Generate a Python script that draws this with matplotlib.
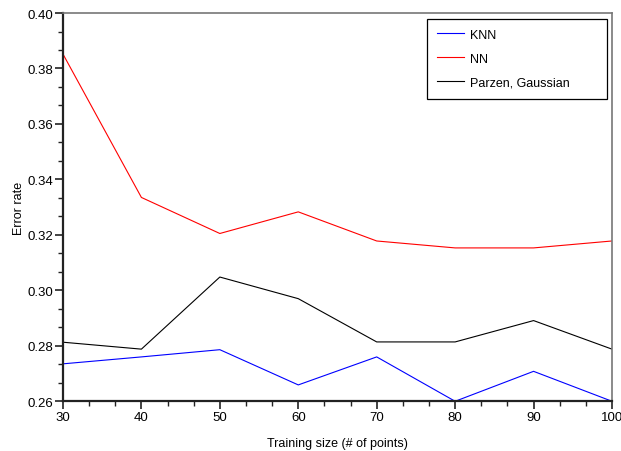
import matplotlib
matplotlib.use("Agg")
import matplotlib.pyplot as plt
from matplotlib.ticker import MultipleLocator, AutoMinorLocator

plt.rcParams['font.family'] = ['Liberation Sans', 'DejaVu Sans']

training_size = [30, 40, 50, 60, 70, 80, 90, 100]
knn = [0.2735, 0.2760, 0.2786, 0.2659, 0.2760, 0.2600, 0.2708, 0.2600]
nn = [0.3852, 0.3335, 0.3205, 0.3283, 0.3178, 0.3153, 0.3153, 0.3178]
parzen = [0.2813, 0.2788, 0.3048, 0.2970, 0.2814, 0.2814, 0.2891, 0.2788]

fig = plt.figure(figsize=(6.21, 4.52), dpi=100)
ax = fig.add_axes([0.1014, 0.11, 0.8841, 0.859])

ax.plot(training_size, knn, color='#0000ff', lw=0.8, label='KNN')
ax.plot(training_size, nn, color='#ff0000', lw=0.8, label='NN')
ax.plot(training_size, parzen, color='black', lw=0.8, label='Parzen, Gaussian')

ax.set_xlim(30, 100)
ax.set_ylim(0.26, 0.40)
ax.xaxis.set_major_locator(MultipleLocator(10))
ax.yaxis.set_major_locator(MultipleLocator(0.02))
ax.xaxis.set_minor_locator(AutoMinorLocator(3))
ax.yaxis.set_minor_locator(AutoMinorLocator(3))
ax.yaxis.set_major_formatter(plt.FormatStrFormatter('%.2f'))

for s in ['left', 'bottom']:
    ax.spines[s].set_color('#222222')
    ax.spines[s].set_linewidth(1.6)
for s in ['top', 'right']:
    ax.spines[s].set_color('#777777')
    ax.spines[s].set_linewidth(1.2)

ax.tick_params(which='major', direction='out', length=6, width=1.2, labelsize=9.5, color='#222222', pad=1)
ax.tick_params(which='minor', direction='out', length=3.5, width=1.0, color='#222222')

ax.set_xlabel('Training size (# of points)', fontsize=9, labelpad=10)
ax.set_ylabel('Error rate', fontsize=9, labelpad=1.5)

# legend box stretched to the width seen in the original
leg = ax.legend(loc='upper left', fontsize=9, frameon=True, fancybox=False,
                edgecolor='black', handlelength=2.2, handletextpad=0.45,
                labelspacing=0.95, borderpad=0.8, mode='expand',
                bbox_to_anchor=(0.663, 0.787, 0.328, 0.198), borderaxespad=0,
                framealpha=1)
leg.get_frame().set_linewidth(0.9)

fig.savefig('out.png', dpi=100)
